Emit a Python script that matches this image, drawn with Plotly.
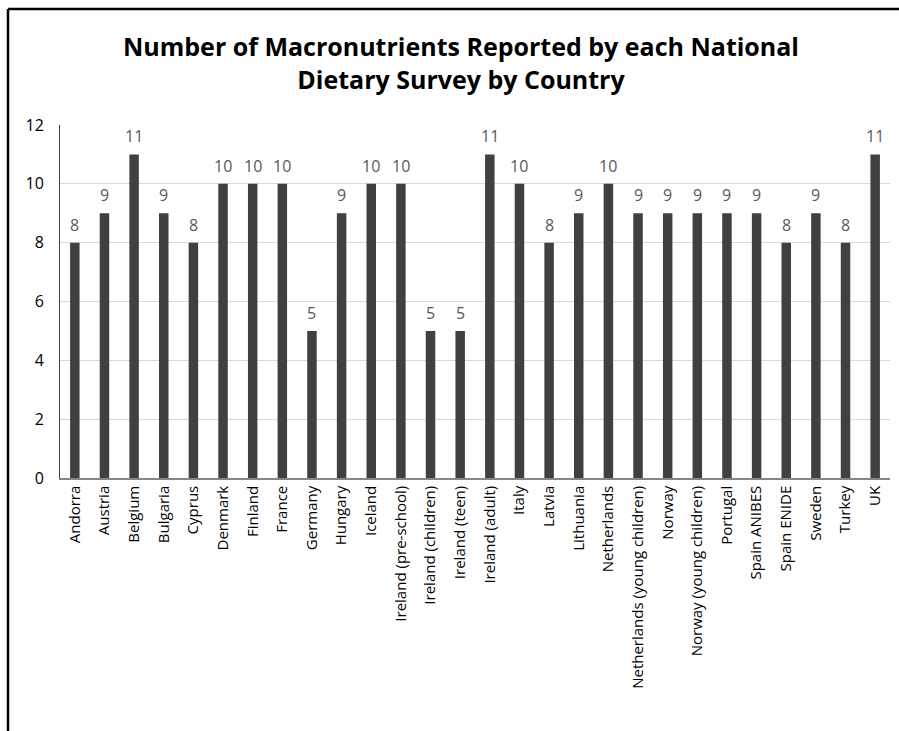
import plotly.graph_objects as go

categories = ["Andorra", "Austria", "Belgium", "Bulgaria", "Cyprus", "Denmark", "Finland",
              "France", "Germany", "Hungary", "Iceland", "Ireland (pre-school)",
              "Ireland (children)", "Ireland (teen)", "Ireland (adult)", "Italy", "Latvia",
              "Lithuania", "Netherlands", "Netherlands (young children)", "Norway",
              "Norway (young children)", "Portugal", "Spain ANIBES", "Spain ENIDE",
              "Sweden", "Turkey", "UK"]
values = [8, 9, 11, 9, 8, 10, 10, 10, 5, 9, 10, 10, 5, 5, 11, 10, 8, 9, 10, 9, 9, 9, 9, 9, 8, 9, 8, 11]
y_ticks = [0, 2, 4, 6, 8, 10, 12]

FONT = "Open Sans"

fig = go.Figure(go.Bar(
    x=categories, y=values,
    marker=dict(color="#404040", line=dict(width=0)),
    cliponaxis=False,
))

annotations = [
    dict(x=c, y=v, xref="x", yref="y", text=str(v), showarrow=False,
         yanchor="bottom", yshift=5,
         font=dict(family=FONT, size=16, color="#595959"))
    for c, v in zip(categories, values)
]

L, R, T, B = 60, 9, 125, 253
W, H = 899, 731
pw, ph = W - L - R, H - T - B

def px2x(px):
    return (px - L) / pw

def py2y(py):
    return (H - B - py) / ph

fig.update_layout(
    width=W, height=H,
    margin=dict(l=L, r=R, t=T, b=B),
    paper_bgcolor="white", plot_bgcolor="white",
    bargap=0.68,
    showlegend=False,
    annotations=annotations,
    title=dict(
        text="Number of Macronutrients Reported by each National<br>Dietary Survey by Country",
        x=(461) / W, xanchor="center", y=1 - 56 / H, yanchor="middle",
        font=dict(family=FONT, size=25, color="#000000", weight="bold"),
    ),
    xaxis=dict(
        tickangle=-90, tickfont=dict(family=FONT, size=15, color="#000000"),
        showline=True, linecolor="#868686", linewidth=1.5,
        ticks="", showgrid=False,
    ),
    yaxis=dict(
        range=[0, 12], tickvals=y_ticks,
        tickfont=dict(family=FONT, size=16, color="#000000"),
        ticklabelstandoff=12,
        showgrid=True, gridcolor="#d9d9d9", gridwidth=1,
        showline=True, linecolor="#404040", linewidth=1,
        ticks="", zeroline=False,
    ),
    shapes=[
        dict(type="line", xref="paper", yref="paper",
             x0=px2x(8), x1=px2x(899), y0=py2y(9), y1=py2y(9),
             line=dict(color="#000000", width=2.5)),
        dict(type="line", xref="paper", yref="paper",
             x0=px2x(8), x1=px2x(8), y0=py2y(9), y1=py2y(731),
             line=dict(color="#000000", width=2.5)),
    ],
)

fig.write_html("out.html")
